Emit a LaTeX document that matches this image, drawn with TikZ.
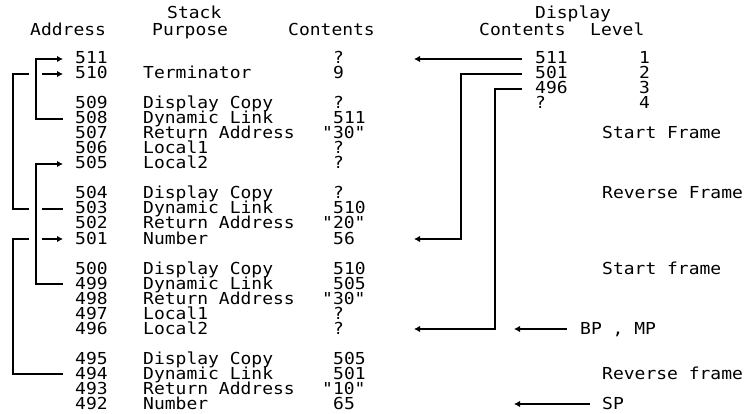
\documentclass[tikz,border=0pt]{standalone}
\usepackage{fontspec}
\newfontfamily\pix[FakeStretch=1.09]{DejaVu Sans Mono}
\usetikzlibrary{arrows.meta}
\tikzset{
  txt/.style={anchor=base west, inner sep=0pt, text height=10pt, text depth=0pt,
              font=\pix\fontsize{16.5}{16.5}\selectfont},
  link/.style={line width=1.8pt, line cap=butt, line join=miter},
  arr/.style={link, -{Latex[length=6pt,width=6.5pt]}}
}
\newcommand{\stackrow}[5]{%
  \node[txt] (a#2) at (75,{64+15*#1}) {#2};
  \node[txt] (p#2) at (143,{64+15*#1}) {#3};
  \node[txt] (c#2) at (#5,{64+15*#1}) {#4};
}
\begin{document}
\begin{tikzpicture}[x=1pt,y=-1pt]
\useasboundingbox[fill=white] (0,0) rectangle (744,414);

% headers
\node[txt] (hstack) at (167,19) {Stack};
\node[txt] (haddr) at (30,36) {Address};
\node[txt] (hpurp) at (152,36) {Purpose};
\node[txt] (hcont) at (288,36) {Contents};
\node[txt] (hdisp) at (535,19) {Display};
\node[txt] (hdcont) at (479,36) {Contents};
\node[txt] (hlevel) at (590,36) {Level};

% stack rows
\node[txt] (a511) at (75,64) {511};
\node[txt] (c511) at (333,64) {?};
\stackrow{1}{510}{Terminator}{9}{333}
\stackrow{3}{509}{Display Copy}{?}{333}
\stackrow{4}{508}{Dynamic Link}{511}{333}
\stackrow{5}{507}{Return Address}{"30"}{322}
\stackrow{6}{506}{Local1}{?}{333}
\stackrow{7}{505}{Local2}{?}{333}
\stackrow{9}{504}{Display Copy}{?}{333}
\stackrow{10}{503}{Dynamic Link}{510}{333}
\stackrow{11}{502}{Return Address}{"20"}{322}
\stackrow{12}{501}{Number}{56}{333}
\stackrow{14}{500}{Display Copy}{510}{333}
\stackrow{15}{499}{Dynamic Link}{505}{333}
\stackrow{16}{498}{Return Address}{"30"}{322}
\stackrow{17}{497}{Local1}{?}{333}
\stackrow{18}{496}{Local2}{?}{333}
\stackrow{20}{495}{Display Copy}{505}{333}
\stackrow{21}{494}{Dynamic Link}{501}{333}
\stackrow{22}{493}{Return Address}{"10"}{322}
\stackrow{23}{492}{Number}{65}{333}

% display
\node[txt] (d511) at (535,64) {511};
\node[txt] (l1) at (639,64) {1};
\node[txt] (d501) at (535,79) {501};
\node[txt] (l2) at (639,79) {2};
\node[txt] (d496) at (535,94) {496};
\node[txt] (l3) at (639,94) {3};
\node[txt] (dq) at (535,109) {?};
\node[txt] (l4) at (639,109) {4};

% right labels
\node[txt] (sf1) at (602,139) {Start Frame};
\node[txt] (rf1) at (602,199) {Reverse Frame};
\node[txt] (sf2) at (602,274) {Start frame};
\node[txt] (bpmp) at (580,334) {BP , MP};
\node[txt] (rf2) at (602,379) {Reverse frame};
\node[txt] (sp) at (602,409) {SP};

% coordinates of vertical runs
\coordinate (xA) at (36,0);
\coordinate (xB) at (13,0);
\coordinate (tipcol) at (414,0);
\coordinate (x501) at (461,0);
\coordinate (x496) at (495,0);
\coordinate (tip2) at (514,0);

% dynamic links, inner brackets
\draw[arr] ([xshift=-12pt]a508.west) -- (xA |- a508.west) -- (xA |- a511.west) -- ([xshift=-12pt]a511.west);
\draw[arr] ([xshift=-12pt]a499.west) -- (xA |- a499.west) -- (xA |- a505.west) -- ([xshift=-12pt]a505.west);

% dynamic links, outer brackets (with gaps where they cross)
\draw[link] ([xshift=-12pt]a503.west) -- ([xshift=-33pt]a503.west);
\draw[link] ([xshift=-46pt]a503.west) -- (xB |- a503.west) -- (xB |- a510.west) -- ([xshift=-46pt]a510.west);
\draw[arr] ([xshift=-33pt]a510.west) -- ([xshift=-12pt]a510.west);

\draw[link] ([xshift=-12pt]a494.west) -- (xB |- a494.west) -- (xB |- a501.west) -- ([xshift=-46pt]a501.west);
\draw[arr] ([xshift=-33pt]a501.west) -- ([xshift=-12pt]a501.west);

% display pointers
\draw[arr] ([xshift=-13pt]d511.west) -- (tipcol |- a511.west);
\draw[arr] ([xshift=-13pt]d501.west) -- (x501 |- d501.west) -- (x501 |- a501.west) -- (tipcol |- a501.west);
\draw[arr] ([xshift=-13pt]d496.west) -- (x496 |- d496.west) -- (x496 |- a496.west) -- (tipcol |- a496.west);

% BP/MP and SP
\draw[arr] ([xshift=-13pt]bpmp.west) -- (tip2 |- bpmp.west);
\draw[arr] ([xshift=-12pt]sp.west) -- (tip2 |- sp.west);
\end{tikzpicture}
\end{document}
